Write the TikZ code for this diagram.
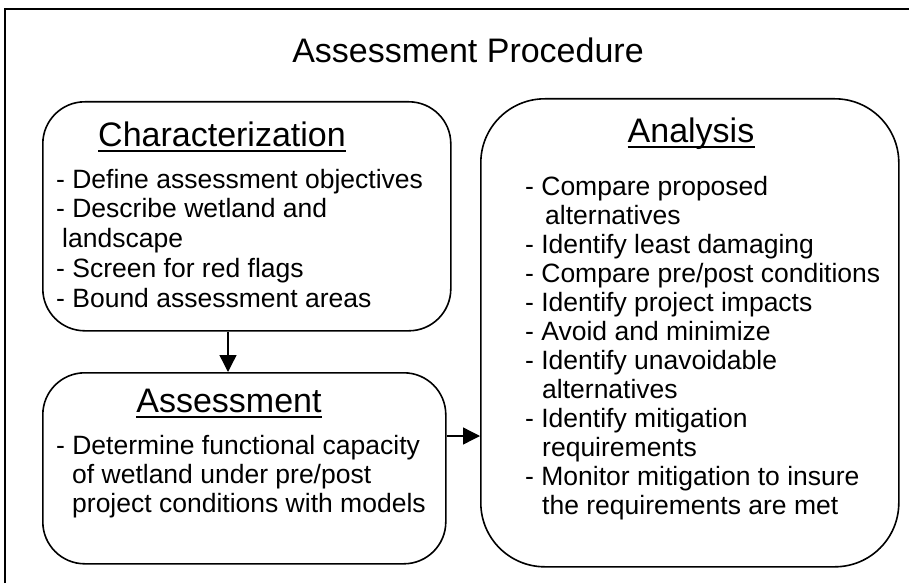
\documentclass[tikz,border=0pt]{standalone}
\usepackage{fontspec}
\setmainfont{Liberation Sans}
\usetikzlibrary{arrows.meta}
\begin{document}
\begin{tikzpicture}[x=1pt,y=-1pt,
  box/.style={draw, line width=1.6pt, rounded corners=42pt, inner sep=0pt, anchor=north west, minimum width=#1},
  item/.style={anchor=base west, inner sep=0pt, font=\fontsize{26.5}{30}\selectfont},
  head/.style={anchor=base, inner sep=0pt, font=\fontsize{34}{40}\selectfont},
  uline/.style={line width=1.5pt},
  arr/.style={line width=1.4pt, -{Triangle[length=17pt,width=17pt]}}
]
\useasboundingbox (0,0) rectangle (909,583);
\coordinate (fbl) at (5,583);
\coordinate (ftl) at (5,9);
\coordinate (ftr) at (909,9);
\draw[line width=2pt] (fbl) -- (ftl) -- (ftr);

\node[head] (title) at (468,63) {Assessment Procedure};

% boxes
\node[box=408pt, minimum height=229pt] (char) at (42,101) {};
\node[box=403pt, minimum height=191pt] (assess) at (42,372) {};
\node[box=418pt, minimum height=468pt, rounded corners=64pt] (anal) at (480,98) {};

% Characterization
\node[head] (ch) at (222,146) {Characterization};
\draw[uline] ([yshift=-5pt]ch.base west) -- ([yshift=-5pt]ch.base east);
\node[item] (c1) at (56,188) {- Define assessment objectives};
\node[item] (c2) at (56,217.5) {- Describe wetland and};
\node[item] (c3) at (62,247) {landscape};
\node[item] (c4) at (56,277) {- Screen for red flags};
\node[item] (c5) at (56,307) {- Bound assessment areas};

% Assessment
\node[head] (ah) at (229,412) {Assessment};
\draw[uline] ([yshift=-5pt]ah.base west) -- ([yshift=-5pt]ah.base east);
\node[item] (a1) at (56,454) {- Determine functional capacity};
\node[item] (a2) at (72,483) {of wetland under pre/post};
\node[item] (a3) at (72,512) {project conditions with models};

% Analysis
\node[head] (nh) at (691,142) {Analysis};
\draw[uline] ([yshift=-5pt]nh.base west) -- ([yshift=-5pt]nh.base east);
\node[item] (n1) at (525,195) {- Compare proposed};
\node[item] (n2) at (545,224) {alternatives};
\node[item] (n3) at (525,253) {- Identify least damaging};
\node[item] (n4) at (525,282) {- Compare pre/post conditions};
\node[item] (n5) at (525,311) {- Identify project impacts};
\node[item] (n6) at (525,340) {- Avoid and minimize};
\node[item] (n7) at (525,369) {- Identify unavoidable};
\node[item] (n8) at (542,398) {alternatives};
\node[item] (n9) at (525,427) {- Identify mitigation};
\node[item] (n10) at (542,456) {requirements};
\node[item] (n11) at (525,485) {- Monitor mitigation to insure};
\node[item] (n12) at (542,514) {the requirements are met};

% arrows
\coordinate (dx) at (228,0);
\coordinate (ry) at (0,436);
\draw[arr] (char.south -| dx) -- (assess.north -| dx);
\draw[arr] (assess.east |- ry) -- (anal.west |- ry);
\end{tikzpicture}
\end{document}
